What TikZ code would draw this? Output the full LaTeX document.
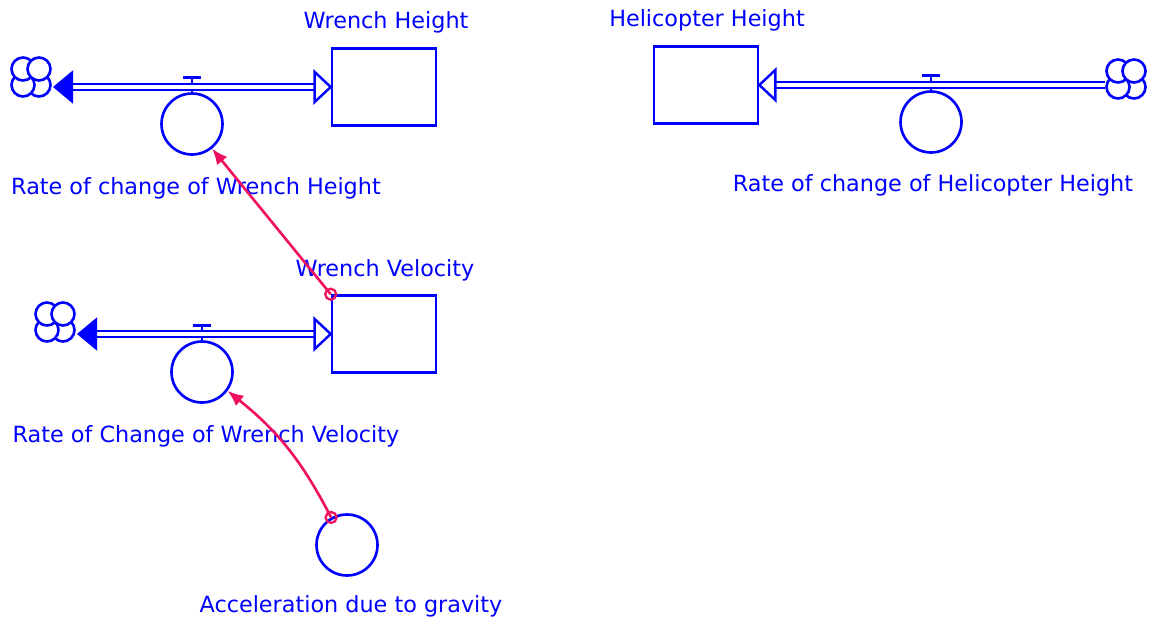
\documentclass[tikz,border=0pt]{standalone}
\usepackage{fontspec}
\setmainfont{DejaVu Sans}
\usetikzlibrary{arrows.meta}
\definecolor{vblue}{RGB}{0,0,255}
\definecolor{vpink}{RGB}{240,16,96}
\tikzset{
  cloud/.pic={
    \draw[vblue, line width=1.5pt, fill=white] (8,8) circle (11.5);
    \draw[vblue, line width=1.5pt, fill=white] (-8,8) circle (11.5);
    \draw[vblue, line width=1.5pt, fill=white] (-8,-8) circle (11.5);
    \draw[vblue, line width=1.5pt, fill=white] (8,-8) circle (11.5);
  },
}
\begin{document}
\begin{tikzpicture}[x=0.02cm, y=-0.02cm,
  stock/.style={rectangle, draw=vblue, line width=1.5pt, minimum width=2.08cm, minimum height=1.54cm},
  valve/.style={circle, draw=vblue, line width=1.5pt, minimum size=1.22cm, inner sep=0pt},
  sink/.style={circle, minimum size=0.84cm, inner sep=0pt},
  pipe/.style={draw=vblue, line width=1.5pt, double=white, double distance=2pt},
  lbl/.style={text=vblue, font=\fontsize{12.7}{15}\selectfont, inner sep=0pt},
  link/.style={draw=vpink, line width=1.5pt, -{Latex[length=9pt, width=7.5pt]}},
  ring/.style={draw=vpink, line width=1.3pt}]
\useasboundingbox (0,0) rectangle (1151,621);

% wrench height
\begin{scope}
\node[stock] (sk1) at (384,87) {};
\node[valve] (vl1) at (192,124) {};
\node[sink] (cl1) at (31,77) {};
\pic at (cl1) {cloud};
\draw[vblue, line width=1.5pt] (vl1.north) -- ++(0,-15) ++(-9,0) -- ++(18,0);
\draw[pipe, shorten <=9pt, shorten >=10pt] (sk1.west) -- (sk1.west -| cl1.east);
\filldraw[vblue, line width=1.4pt, fill=white] (sk1.west) -- ++(-16,-15) -- ++(0,30) -- cycle;
\filldraw[vblue, line width=1pt] (sk1.west -| cl1.east) ++(2,0) -- ++(18,-15) -- ++(0,30) -- cycle;
\node[lbl] (lsk1) at (386,22) {Wrench Height};
\node[lbl] (lvl1) at (196,188) {Rate of change of Wrench Height};
\end{scope}

% wrench velocity
\begin{scope}
\node[stock] (sk2) at (384,334) {};
\node[valve] (vl2) at (202,372) {};
\node[sink] (cl2) at (55,322) {};
\pic at (cl2) {cloud};
\draw[vblue, line width=1.5pt] (vl2.north) -- ++(0,-15) ++(-9,0) -- ++(18,0);
\draw[pipe, shorten <=9pt, shorten >=10pt] (sk2.west) -- (sk2.west -| cl2.east);
\filldraw[vblue, line width=1.4pt, fill=white] (sk2.west) -- ++(-16,-15) -- ++(0,30) -- cycle;
\filldraw[vblue, line width=1pt] (sk2.west -| cl2.east) ++(2,0) -- ++(18,-15) -- ++(0,30) -- cycle;
\node[lbl] (lsk2) at (385,270) {Wrench Velocity};
\node[lbl] (lvl2) at (206,436) {Rate of Change of Wrench Velocity};
\end{scope}

% gravity
\node[valve] (ax) at (347,545) {};
\node[lbl] (lax) at (351,606) {Acceleration due to gravity};

% helicopter height
\begin{scope}
\node[stock] (sk3) at (706,85) {};
\node[valve] (vl3) at (931,122) {};
\node[sink] (cl3) at (1126,79) {};
\draw[vblue, line width=1.5pt] (vl3.north) -- ++(0,-15) ++(-9,0) -- ++(18,0);
\draw[pipe, shorten <=9pt] (sk3.east) -- (sk3.east -| cl3.west);
\pic at (cl3) {cloud};
\filldraw[vblue, line width=1.4pt, fill=white] (sk3.east) -- ++(16,-15) -- ++(0,30) -- cycle;
\node[lbl] (lsk3) at (707,20) {Helicopter Height};
\node[lbl] (lvl3) at (933,185) {Rate of change of Helicopter Height};
\end{scope}

% links
\draw[link] (sk2.north west) -- (vl1);
\draw[ring] (sk2.north west) circle (5.5);
\draw[link] (ax.120) to[bend right=12] (vl2);
\draw[ring] (ax.120) circle (5.5);
\end{tikzpicture}
\end{document}
